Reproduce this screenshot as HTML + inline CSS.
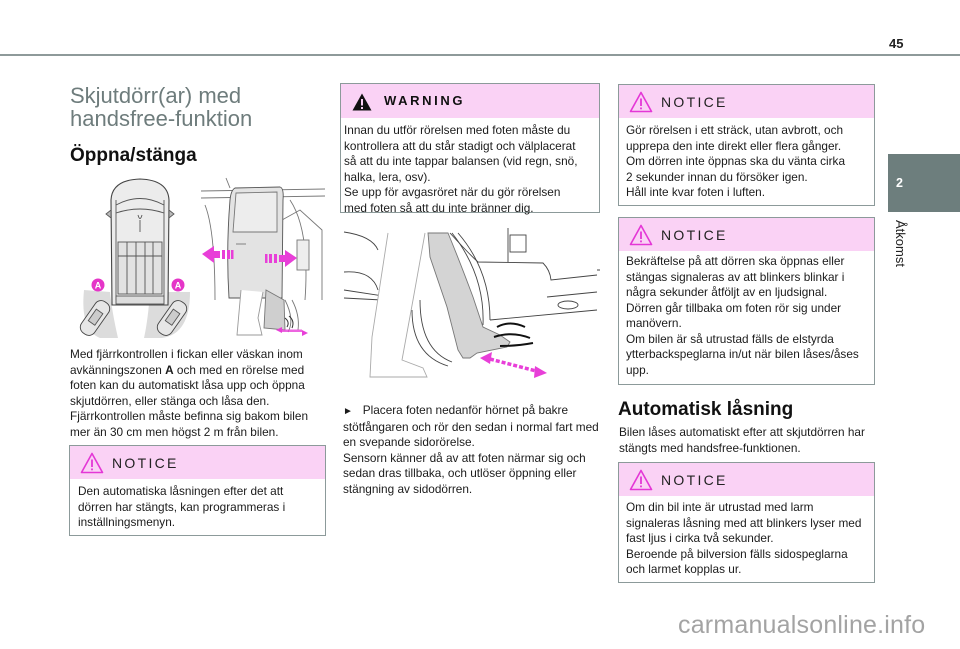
<!DOCTYPE html>
<html><head><meta charset="utf-8">
<style>
*{margin:0;padding:0;box-sizing:border-box}
body{width:960px;height:649px;background:#fff;position:relative;overflow:hidden;font-family:"Liberation Sans",Arial,sans-serif;color:#1b1b1b}
.a{position:absolute;white-space:nowrap}
.t{font-size:11.8px;line-height:15.5px}
.box{position:absolute;border:1.5px solid #8c9a9a;background:#fff}
.hd{position:absolute;left:0;top:0;right:0;height:33px;background:#fad2f5}
.ntc{position:absolute;left:42px;top:9px;font-size:14px;letter-spacing:2.3px;color:#222;line-height:16px}
.tri{position:absolute;left:10px;top:6px}
</style></head><body>

<!-- header line -->
<div class="a" style="left:0;top:54px;width:960px;height:1.5px;background:#8e9a9a"></div>
<div class="a" style="left:889px;top:36px;font-size:13px;font-weight:bold;color:#222">45</div>

<!-- side tab -->
<div class="a" style="left:888px;top:154px;width:72px;height:58px;background:#6d7e7d"></div>
<div class="a" style="left:896px;top:176px;font-size:12.5px;font-weight:bold;color:#fff">2</div>
<div class="a" style="left:893px;top:220px;font-size:13px;color:#222;writing-mode:vertical-rl">Åtkomst</div>

<!-- left column -->
<div class="a" style="left:70px;top:84px;font-size:22px;line-height:23px;color:#6e7c7c">Skjutdörr(ar) med<br>handsfree-funktion</div>
<div class="a" style="left:70px;top:145px;font-size:19px;font-weight:bold;color:#111">Öppna/stänga</div>

<div class="a t" style="left:70px;top:347px">Med fjärrkontrollen i fickan eller väskan inom<br>avkänningszonen <b>A</b> och med en rörelse med<br>foten kan du automatiskt låsa upp och öppna<br>skjutdörren, eller stänga och låsa den.<br>Fjärrkontrollen måste befinna sig bakom bilen<br>mer än 30 cm men högst 2 m från bilen.</div>

<div class="box" style="left:69px;top:445px;width:257px;height:91px">
 <div class="hd" style="height:33px"></div>
 <svg class="tri" width="24" height="22" viewBox="0 0 24 22"><path d="M12 1.5 L22.5 20.5 L1.5 20.5 Z" fill="none" stroke="#e437d6" stroke-width="1.6" stroke-linejoin="round"/><rect x="11.1" y="7.5" width="1.8" height="7.5" fill="#e437d6"/><rect x="11.1" y="16.5" width="1.8" height="1.8" fill="#e437d6"/></svg>
 <div class="ntc">NOTICE</div>
</div>
<div class="a t" style="left:78px;top:484px">Den automatiska låsningen efter det att<br>dörren har stängts, kan programmeras i<br>inställningsmenyn.</div>

<!-- middle column -->
<div class="box" style="left:340px;top:83px;width:260px;height:130px">
 <div class="hd" style="height:34px"></div>
 <svg class="tri" style="left:11px;top:9px" width="20" height="18" viewBox="0 0 20 18"><path d="M10 0.5 L19.5 17.5 L0.5 17.5 Z" fill="#111"/><rect x="9" y="6" width="2" height="6.5" fill="#fad2f5"/><rect x="9" y="14" width="2" height="2" fill="#fad2f5"/></svg>
 <div class="a" style="left:43px;top:9px;font-size:13px;font-weight:bold;letter-spacing:2.6px;color:#111">WARNING</div>
</div>
<div class="a t" style="left:344px;top:123px">Innan du utför rörelsen med foten måste du<br>kontrollera att du står stadigt och välplacerat<br>så att du inte tappar balansen (vid regn, snö,<br>halka, lera, osv).<br>Se upp för avgasröret när du gör rörelsen<br>med foten så att du inte bränner dig.</div>

<div class="a t" style="left:343px;top:403px"><span style="font-size:10px">►</span>&nbsp;&nbsp; Placera foten nedanför hörnet på bakre<br>stötfångaren och rör den sedan i normal fart med<br>en svepande sidorörelse.<br>Sensorn känner då av att foten närmar sig och<br>sedan dras tillbaka, och utlöser öppning eller<br>stängning av sidodörren.</div>

<!-- right column -->
<div class="box" style="left:618px;top:84px;width:257px;height:122px">
 <div class="hd"></div>
 <svg class="tri" width="24" height="22" viewBox="0 0 24 22"><path d="M12 1.5 L22.5 20.5 L1.5 20.5 Z" fill="none" stroke="#e437d6" stroke-width="1.6" stroke-linejoin="round"/><rect x="11.1" y="7.5" width="1.8" height="7.5" fill="#e437d6"/><rect x="11.1" y="16.5" width="1.8" height="1.8" fill="#e437d6"/></svg>
 <div class="ntc">NOTICE</div>
</div>
<div class="a t" style="left:626px;top:123px">Gör rörelsen i ett sträck, utan avbrott, och<br>upprepa den inte direkt eller flera gånger.<br>Om dörren inte öppnas ska du vänta cirka<br>2 sekunder innan du försöker igen.<br>Håll inte kvar foten i luften.</div>

<div class="box" style="left:618px;top:217px;width:257px;height:168px">
 <div class="hd"></div>
 <svg class="tri" width="24" height="22" viewBox="0 0 24 22"><path d="M12 1.5 L22.5 20.5 L1.5 20.5 Z" fill="none" stroke="#e437d6" stroke-width="1.6" stroke-linejoin="round"/><rect x="11.1" y="7.5" width="1.8" height="7.5" fill="#e437d6"/><rect x="11.1" y="16.5" width="1.8" height="1.8" fill="#e437d6"/></svg>
 <div class="ntc">NOTICE</div>
</div>
<div class="a t" style="left:626px;top:254px">Bekräftelse på att dörren ska öppnas eller<br>stängas signaleras av att blinkers blinkar i<br>några sekunder åtföljt av en ljudsignal.<br>Dörren går tillbaka om foten rör sig under<br>manövern.<br>Om bilen är så utrustad fälls de elstyrda<br>ytterbackspeglarna in/ut när bilen låses/åses<br>upp.</div>

<div class="a" style="left:618px;top:399px;font-size:19px;font-weight:bold;color:#111">Automatisk låsning</div>
<div class="a t" style="left:619px;top:425px">Bilen låses automatiskt efter att skjutdörren har<br>stängts med handsfree-funktionen.</div>

<div class="box" style="left:618px;top:462px;width:257px;height:121px">
 <div class="hd"></div>
 <svg class="tri" width="24" height="22" viewBox="0 0 24 22"><path d="M12 1.5 L22.5 20.5 L1.5 20.5 Z" fill="none" stroke="#e437d6" stroke-width="1.6" stroke-linejoin="round"/><rect x="11.1" y="7.5" width="1.8" height="7.5" fill="#e437d6"/><rect x="11.1" y="16.5" width="1.8" height="1.8" fill="#e437d6"/></svg>
 <div class="ntc">NOTICE</div>
</div>
<div class="a t" style="left:626px;top:500px">Om din bil inte är utrustad med larm<br>signaleras låsning med att blinkers lyser med<br>fast ljus i cirka två sekunder.<br>Beroende på bilversion fälls sidospeglarna<br>och larmet kopplas ur.</div>

<!-- watermark -->
<div class="a" style="left:678px;top:611px;font-size:25px;color:#a3a3a3;letter-spacing:0.2px">carmanualsonline.info</div>

<!-- illustrations -->
<svg class="a" style="left:0;top:0" width="960" height="649" viewBox="0 0 960 649">
 <g fill="none" stroke="#555" stroke-width="0.9">
  <!-- shaded zones -->
  <path d="M84 290 Q80 330 100 338 L118 338 Q112 312 110 292 Z" fill="#dcdcdc" stroke="none"/>
  <path d="M150 292 Q148 320 144 338 L162 338 Q190 334 190 292 Z" fill="#dcdcdc" stroke="none"/>
  <!-- car top -->
  <path d="M112 305 L111 200 Q112 180 140 179 Q168 180 169 200 L168 305 Z" fill="#ececec" stroke="#444" stroke-width="1.1"/>
  <path d="M116 205 Q140 192 164 205" />
  <path d="M116 213 Q140 205 164 213" />
  <path d="M138 215 Q140 222 142 215 M140 220 L140 232"/>
  <path d="M106 214 L111 210 L111 218 Z M174 214 L169 210 L169 218 Z" fill="#bbb"/>
  <path d="M116 200 L116 300 M164 200 L164 300"/>
  <rect x="118" y="242" width="44" height="52" fill="#e2e2e2"/>
  <path d="M127 242 V294 M136 242 V294 M145 242 V294 M153 242 V294 M118 256 H162"/>
  <rect x="116" y="296" width="48" height="8" fill="#ddd"/>
  <!-- keyfobs -->
  <g transform="translate(95,318) rotate(35)"><rect x="-8" y="-19" width="16" height="38" rx="7" fill="#e6e6e6" stroke="#444"/><rect x="-4" y="-8" width="8" height="14" fill="#ccc"/></g>
  <g transform="translate(172,318) rotate(35)"><rect x="-8" y="-19" width="16" height="38" rx="7" fill="#e6e6e6" stroke="#444"/><rect x="-4" y="-8" width="8" height="14" fill="#ccc"/></g>
 </g>
 <circle cx="98" cy="285" r="6.5" fill="#e535c8"/><text x="98" y="288.5" font-size="9" font-weight="bold" fill="#fff" text-anchor="middle" font-family="Liberation Sans, sans-serif">A</text>
 <circle cx="178" cy="285" r="6.5" fill="#e535c8"/><text x="178" y="288.5" font-size="9" font-weight="bold" fill="#fff" text-anchor="middle" font-family="Liberation Sans, sans-serif">A</text>

 <!-- side view -->
 <g fill="none" stroke="#777" stroke-width="0.9">
  <path d="M201 191 L325 189 M201 198 L325 196"/>
  <path d="M226 178 L230 188"/>
  <path d="M205 205 Q215 230 215 300 M290 200 Q310 230 305 300"/>
  <path d="M282 220 L300 210 L322 230 L322 300"/>
  <rect x="297" y="240" width="12" height="30" fill="#eee"/>
  <path d="M292 300 Q300 315 298 330 M285 300 Q295 320 288 332"/>
  <path d="M235 188 L280 187 Q284 188 283 200 L282 298 L229 298 Q226 250 230 200 Q231 190 235 188 Z" fill="#e3e3e3" stroke="#555"/>
  <path d="M236 193 L277 192 L277 232 L233 232 Z" fill="#ededed"/>
  <path d="M236 244 L246 244"/>
  <path d="M241 290 L237 335 L262 335 L258 318 L263 292" stroke="#999" fill="#fff"/>
  <path d="M266 290 L264 328 L285 330 L284 300 Z" fill="#cfcfcf" stroke="#777"/>
 </g>
 <g fill="#e83fd8">
  <polygon points="202,254 214,246 214,251 220,251 220,258 214,258 214,263"/>
  <rect x="222" y="250" width="3" height="9"/><rect x="227" y="250" width="3" height="9"/><rect x="231" y="250" width="2.5" height="9"/>
  <polygon points="297,258 285,250 285,255 279,255 279,262 285,262 285,267"/>
  <rect x="265" y="254" width="2.5" height="9"/><rect x="269" y="254" width="3" height="9"/><rect x="274" y="254" width="3" height="9"/>
  <path d="M276 330 L282 327 L282 333 Z M308 333 L302 330 L302 336 Z"/>
  <rect x="282" y="329.5" width="20" height="2.5" opacity="0.8"/>
 </g>
 <path d="M285 318 Q290 322 287 327 M289 316 Q295 321 292 328" stroke="#333" fill="none" stroke-width="1"/>

 <!-- middle image -->
 <g fill="none" stroke="#444" stroke-width="0.9">
  <path d="M344 232 Q372 236 378 250 M344 272 Q372 270 378 290 M344 290 L383 296 M344 298 L382 300"/>
  <path d="M450 233 Q470 255 478 262 L543 263 Q550 270 551 280 L597 275"/>
  <path d="M547 297 L597 292 M490 320 L597 310 M597 270 L600 270"/>
  <ellipse cx="568" cy="305" rx="10" ry="4"/>
  <rect x="510" y="235" width="16" height="17"/>
  <path d="M508 228 L508 262"/>
  <path d="M458 233 Q490 270 490 320 M452 233 Q485 275 483 325 M420 300 Q420 350 452 362 M412 310 Q412 355 448 366"/>
  <path d="M388 233 L372 337 L370 377 L427 377 L423 368 L402 360 L413 300 L425 233" stroke="#aaa" fill="#fff"/>
  <path d="M428 233 L448 233 Q460 262 473 297 L483 327 L500 335 L510 342 L507 347 L477 353 L470 358 L463 358 L458 350 L447 307 L430 257 Z" fill="#d4d4d4" stroke="#777"/>
 </g>
 <g fill="none" stroke="#111" stroke-width="2">
  <path d="M497 327 Q510 320 525 327"/>
  <path d="M494 337 Q512 331 530 338"/>
  <path d="M500 346 Q517 346 533 343"/>
 </g>
 <g fill="#e83fd8">
  <polygon points="480,358 492,352 490,364"/>
  <polygon points="547,373 535,366 534,378"/>
  <line x1="490" y1="359" x2="536" y2="371" stroke="#e83fd8" stroke-width="3.5" stroke-dasharray="4,2"/>
 </g>
</svg>

</body></html>
